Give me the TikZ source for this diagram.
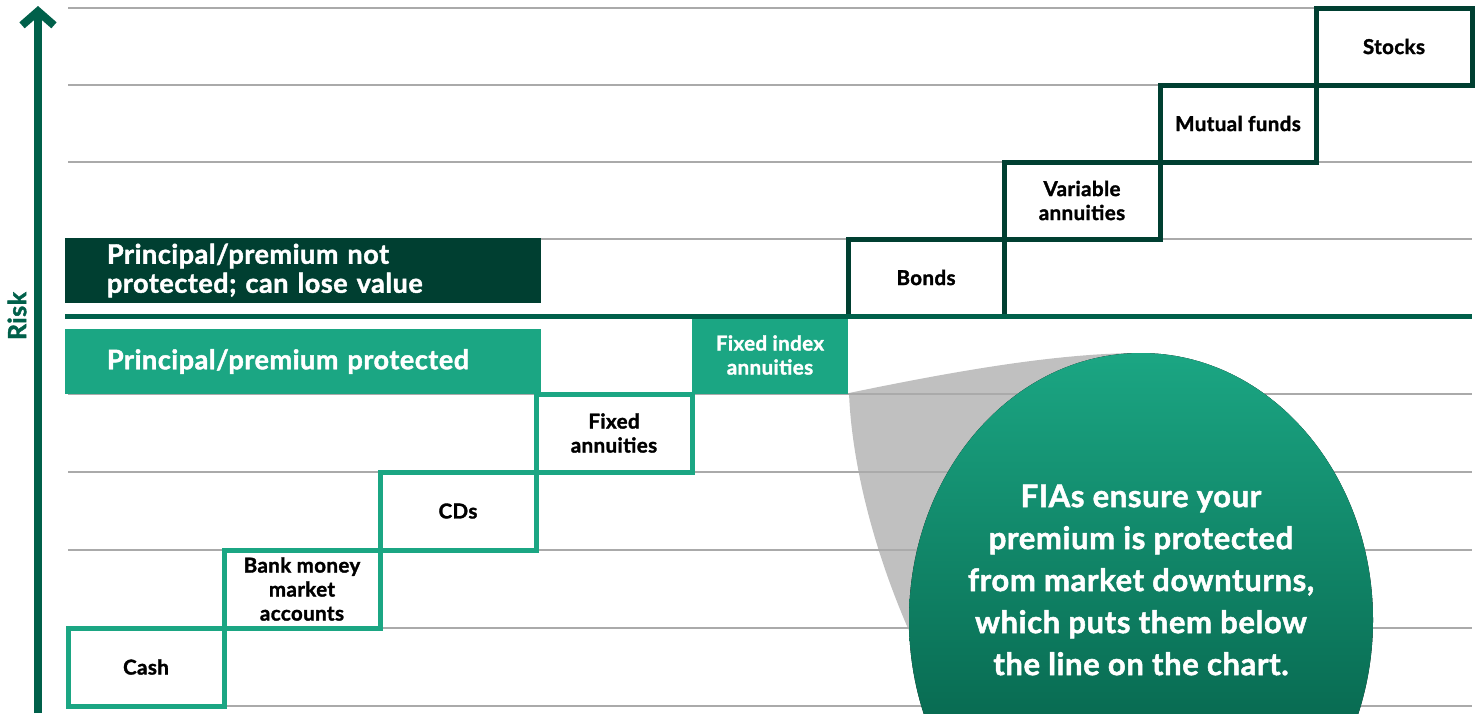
\documentclass[tikz,border=0pt]{standalone}
\usepackage{fontspec}
\setmainfont{Lato}[BoldFeatures={FakeBold=1.6,LetterSpace=2}]
\usetikzlibrary{positioning,arrows.meta}
\tikzset{>={Straight Barb[length=14pt,width=32pt]}}

\definecolor{fiagreen}{RGB}{27,166,131}
\definecolor{deepgreen}{RGB}{0,63,49}
\definecolor{axisgreen}{RGB}{0,96,74}
\definecolor{fiadark}{RGB}{0,100,74}
\definecolor{wedgegray}{RGB}{192,192,192}
\definecolor{gridgray}{RGB}{170,170,170}

\begin{document}
\begin{tikzpicture}[x=1pt,y=-1pt,
    gridline/.style={gridgray,line width=1.3pt},
    stepbase/.style={draw,line width=5pt,fill=white,outer sep=0pt,inner sep=2pt,
      minimum width=156pt,align=center,anchor=south west,
      font=\bfseries\fontsize{20.5}{24}\selectfont},
    lowbox/.style={stepbase,draw=fiagreen,minimum height=78pt},
    highbox/.style={stepbase,draw=deepgreen,minimum height=77pt},
    band/.style={outer sep=0pt,inner xsep=42pt,inner ysep=0pt,text width=392pt,
      minimum height=65pt,align=left,text=white,anchor=north west,
      font=\bfseries\fontsize{27}{29}\selectfont}]
  \useasboundingbox (0,0) rectangle (1481,713);

  % grey wedge behind the bubble
  \fill[wedgegray] (849,393) .. controls (960,370) and (1060,353) .. (1141,353)
    -- (1141,620) -- (925,665) .. controls (878,570) and (852,470) .. (849,393) -- cycle;

  \foreach \y in {8,85,162,239,394,472,550,628,706}
    \draw[gridline] (68,\y) -- (1472,\y);

  \begin{scope}
    \clip (0,0) rectangle (1481,713);
    \fill[top color=fiagreen,bottom color=fiadark!80!black] (1141,620) ellipse [x radius=232, y radius=267];
  \end{scope}
  \node[text=white,align=center,font=\bfseries\fontsize{31}{42}\selectfont] (callout) at (1141,580)
    {FIAs ensure your\\premium is protected\\from market downturns,\\which puts them below\\the line on the chart.};

  % steps below the line
  \node[lowbox] (cash) at (68,706) {Cash};
  \node[lowbox] (bank) at (cash.north east) {Bank money\\market\\accounts};
  \node[lowbox] (cds) at (bank.north east) {CDs};
  \node[lowbox] (fixedann) at (cds.north east) {Fixed\\annuities};
  \node[lowbox,draw=none,fill=fiagreen,text=white] (fia) at (fixedann.north east) {Fixed index\\annuities};
  % steps above the line
  \node[highbox] (bonds) at (fia.north east) {Bonds};
  \node[highbox] (varann) at (bonds.north east) {Variable\\annuities};
  \node[highbox] (mutual) at (varann.north east) {Mutual funds};
  \node[highbox] (stocks) at (mutual.north east) {Stocks};

  \node[band,fill=deepgreen] (notprot) at (65,238) {Principal/premium not\\protected; can lose value};
  \node[band,fill=fiagreen,below right=26pt and 0pt of notprot.south west] (prot) {Principal/premium protected};

  \draw[axisgreen,line width=5pt] (65,316) -- (1472,316);

  \coordinate (axisfoot) at (38,713);
  \coordinate (axistop) at (38,6);
  \draw[->,axisgreen,line width=8pt] (axisfoot) -- (axistop);
  \node[rotate=90,text=axisgreen,font=\bfseries\fontsize{25}{25}\selectfont] (risk) at (17,316) {Risk};
\end{tikzpicture}
\end{document}
